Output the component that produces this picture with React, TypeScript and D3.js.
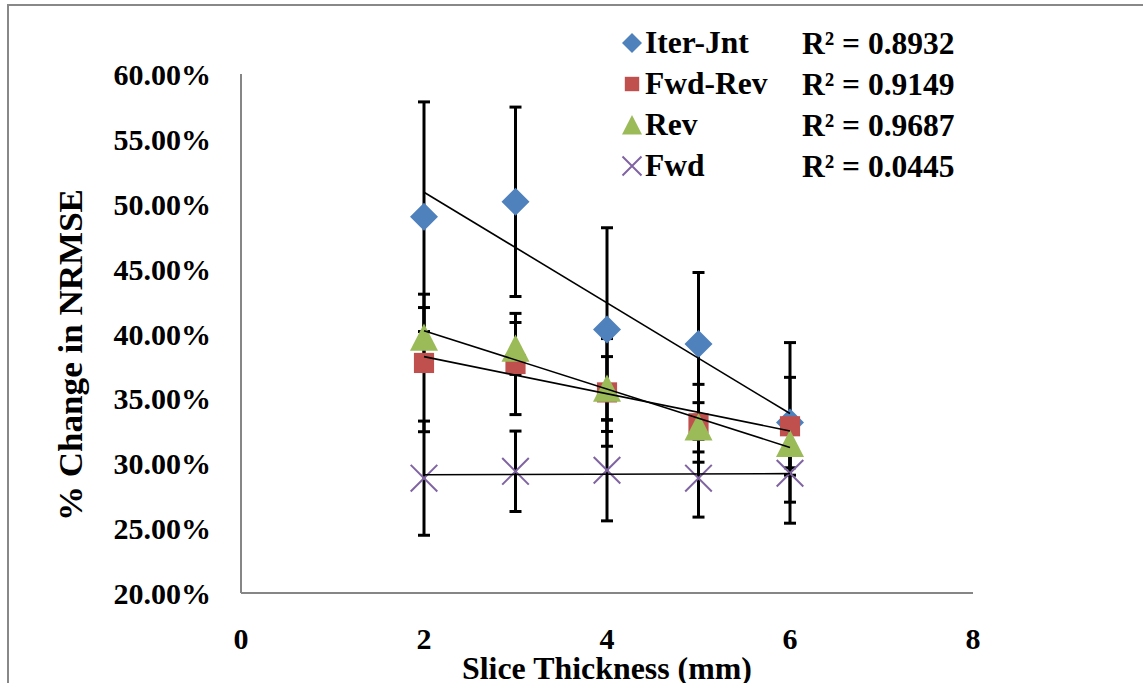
import React from "react";
import * as d3 from "d3";

const xValues = [2, 3, 4, 5, 6];
const iterJnt = [49.0, 50.15, 40.3, 39.2, 33.15];
const iterJntErr = [8.85, 7.3, 7.85, 5.5, 6.15];
const fwdRev = [37.73, 37.65, 35.46, 33.08, 32.85];
const fwdRevErr = [5.3, 3.9, 4.15, 3.0, 3.77];
const rev = [39.7, 38.85, 35.77, 32.77, 31.5];
const revErr = [2.3, 2.0, 2.45, 1.9, 1.85];
const fwd = [28.85, 29.38, 29.46, 28.85, 29.23];
const fwdErr = [4.4, 3.1, 3.9, 3.0, 3.85];

const seriesNames = ["Iter-Jnt", "Fwd-Rev", "Rev", "Fwd"];
const rSquared = ["R² = 0.8932", "R² = 0.9149", "R² = 0.9687", "R² = 0.0445"];
const yTicks = [20, 25, 30, 35, 40, 45, 50, 55, 60];
const xTicks = [0, 2, 4, 6, 8];

const colors = ["#4F81BD", "#C0504D", "#9BBB59", "#8064A2"];
const shapes = ["diamond", "square", "triangle", "x"];

const FONT = "'Liberation Serif', 'Times New Roman', serif";

function Marker({ shape, cx, cy, s, color }: { shape: string; cx: number; cy: number; s: number; color: string }) {
  if (shape === "diamond") {
    const h = s / 2;
    return <path d={`M${cx},${cy - h}L${cx + h},${cy}L${cx},${cy + h}L${cx - h},${cy}Z`} fill={color} />;
  }
  if (shape === "square") {
    const h = (s * 0.72) / 2;
    return <rect x={cx - h} y={cy - h} width={2 * h} height={2 * h} fill={color} />;
  }
  if (shape === "triangle") {
    const h = s / 2;
    return <path d={`M${cx},${cy - h}L${cx + h},${cy + h * 0.95}L${cx - h},${cy + h * 0.95}Z`} fill={color} />;
  }
  const h = (s * 0.95) / 2;
  return (
    <path
      d={`M${cx - h},${cy - h}L${cx + h},${cy + h}M${cx - h},${cy + h}L${cx + h},${cy - h}`}
      stroke={color}
      strokeWidth={2}
      fill="none"
    />
  );
}

export default function App() {
  const x = d3.scaleLinear().domain([0, 8]).range([241, 973]);
  const y = d3.scaleLinear().domain([20, 60]).range([593, 74]);

  const series = [
    { values: iterJnt, err: iterJntErr },
    { values: fwdRev, err: fwdRevErr },
    { values: rev, err: revErr },
    { values: fwd, err: fwdErr },
  ];

  const fits = series.map((s) => {
    const mx = d3.mean(xValues) as number;
    const my = d3.mean(s.values) as number;
    let num = 0;
    let den = 0;
    xValues.forEach((xv, i) => {
      num += (xv - mx) * (s.values[i] - my);
      den += (xv - mx) * (xv - mx);
    });
    const slope = num / den;
    const icpt = my - slope * mx;
    const x0 = d3.min(xValues) as number;
    const x1 = d3.max(xValues) as number;
    return { x0, x1, y0: icpt + slope * x0, y1: icpt + slope * x1 };
  });

  const line = d3
    .line<[number, number]>()
    .x((d) => x(d[0]))
    .y((d) => y(d[1]));

  return (
    <svg
      width={1143}
      height={683}
      style={{ position: "absolute", left: 0, top: 0, display: "block", background: "#fff" }}
      fontFamily={FONT}
    >
      <rect x={8} y={5} width={1200} height={760} fill="#fff" stroke="#888" strokeWidth={2} />

      {/* axes */}
      <line x1={x(0)} x2={x(0)} y1={y(60)} y2={y(20)} stroke="#868686" strokeWidth={2} />
      <line x1={x(0)} x2={x(8)} y1={y(20)} y2={y(20)} stroke="#868686" strokeWidth={2} />

      {yTicks.map((t) => (
        <text key={t} x={211} y={y(t) + 11} textAnchor="end" fontSize={30} fontWeight="bold" fill="#000">
          {t.toFixed(2) + "%"}
        </text>
      ))}
      {xTicks.map((t) => (
        <text key={t} x={x(t)} y={649} textAnchor="middle" fontSize={30} fontWeight="bold" fill="#000">
          {t}
        </text>
      ))}

      <text
        x={607}
        y={679}
        textAnchor="middle"
        fontSize={31}
        fontWeight="bold"
        textLength={290}
        lengthAdjust="spacingAndGlyphs"
      >
        Slice Thickness (mm)
      </text>
      <text
        transform="translate(82,355) rotate(-90)"
        textAnchor="middle"
        fontSize={33}
        fontWeight="bold"
        textLength={332}
        lengthAdjust="spacingAndGlyphs"
      >
        % Change in NRMSE
      </text>

      {/* error bars */}
      {series.map((s, si) =>
        xValues.map((xv, i) => {
          const cx = x(xv);
          const top = y(s.values[i] + s.err[i]);
          const bot = y(s.values[i] - s.err[i]);
          return (
            <g key={`e${si}-${i}`} stroke="#000" strokeWidth={3}>
              <line x1={cx} x2={cx} y1={top} y2={bot} />
              <line x1={cx - 6} x2={cx + 6} y1={top} y2={top} />
              <line x1={cx - 6} x2={cx + 6} y1={bot} y2={bot} />
            </g>
          );
        })
      )}

      {/* markers */}
      {series.map((s, si) =>
        xValues.map((xv, i) => (
          <Marker key={`m${si}-${i}`} shape={shapes[si]} cx={x(xv)} cy={y(s.values[i])} s={28} color={colors[si]} />
        ))
      )}

      {/* trendlines */}
      {fits.map((f, i) => (
        <path
          key={`t${i}`}
          d={line([
            [f.x0, f.y0],
            [f.x1, f.y1],
          ]) as string}
          stroke="#000"
          strokeWidth={1.6}
          fill="none"
        />
      ))}

      {/* legend */}
      {seriesNames.map((name, i) => {
        const cy = 43 + i * 41;
        return (
          <g key={name}>
            <Marker shape={shapes[i]} cx={632} cy={cy} s={20} color={colors[i]} />
            <text x={645} y={cy + 10} fontSize={31.5} fontWeight="bold">
              {name}
            </text>
            <text x={802} y={cy + 11} fontSize={31.5} fontWeight="bold">
              {rSquared[i]}
            </text>
          </g>
        );
      })}
    </svg>
  );
}
